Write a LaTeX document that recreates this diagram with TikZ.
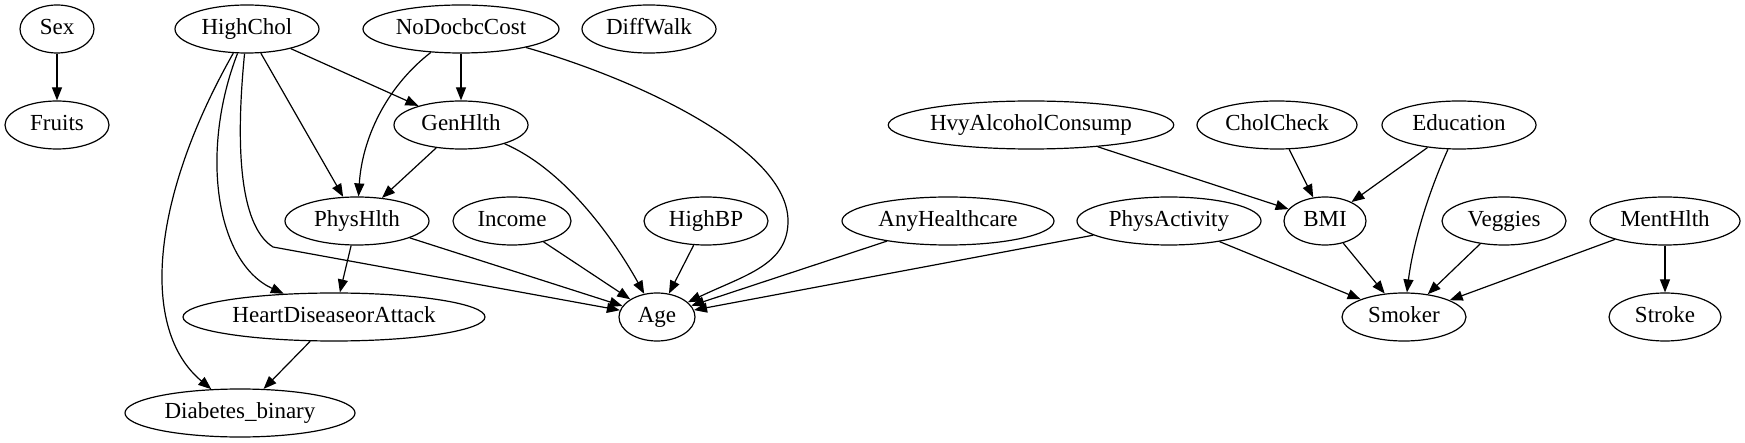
\documentclass[tikz,border=0pt]{standalone}
\usepackage{fontspec}
\setmainfont{Liberation Serif}
\usetikzlibrary{shapes.geometric,arrows.meta}
\tikzset{
  nd/.style={draw, ellipse, line width=1.2pt, inner sep=0pt, minimum height=48pt,
    font=\fontsize{23}{27}\selectfont, text height=15.5pt, text depth=4pt},
  edge/.style={line width=1.2pt, -{Triangle[length=13pt,width=10pt]}}
}
\begin{document}
\begin{tikzpicture}[x=1pt,y=-1pt]
\useasboundingbox (0,0) rectangle (1745,443);
% row 1
\node[nd, minimum width=74pt]  (Sex)         at (57,29)   {Sex};
\node[nd, minimum width=144pt] (HighChol)    at (247,29)  {HighChol};
\node[nd, minimum width=196pt] (NoDocbcCost) at (461,29)  {NoDocbcCost};
\node[nd, minimum width=134pt] (DiffWalk)    at (649,29)  {DiffWalk};
% row 2
\node[nd, minimum width=104pt] (Fruits)      at (57,125)  {Fruits};
\node[nd, minimum width=134pt] (GenHlth)     at (461,125) {GenHlth};
\node[nd, minimum width=284pt] (HvyAlc)      at (1031,125) {HvyAlcoholConsump};
\node[nd, minimum width=160pt] (CholCheck)   at (1277,125) {CholCheck};
\node[nd, minimum width=154pt] (Education)   at (1459,125) {Education};
% row 3
\node[nd, minimum width=144pt] (PhysHlth)    at (357,221) {PhysHlth};
\node[nd, minimum width=118pt] (Income)      at (512,221) {Income};
\node[nd, minimum width=124pt] (HighBP)      at (706,221) {HighBP};
\node[nd, minimum width=212pt] (AnyHC)       at (948,221) {AnyHealthcare};
\node[nd, minimum width=184pt] (PhysAct)     at (1169,221) {PhysActivity};
\node[nd, minimum width=82pt]  (BMI)         at (1325,221) {BMI};
\node[nd, minimum width=124pt] (Veggies)     at (1504,221) {Veggies};
\node[nd, minimum width=150pt] (MentHlth)    at (1665,221) {MentHlth};
% row 4
\node[nd, minimum width=302pt] (Heart)       at (334,317) {HeartDiseaseorAttack};
\node[nd, minimum width=76pt]  (Age)         at (657,317) {Age};
\node[nd, minimum width=124pt] (Smoker)      at (1404,317) {Smoker};
\node[nd, minimum width=112pt] (Stroke)      at (1665,317) {Stroke};
% row 5
\node[nd, minimum width=230pt] (Diabetes)    at (240,413) {Diabetes\_binary};

% edges
\draw[edge] (Sex) -- (Fruits);
\draw[edge] (HighChol) -- (GenHlth);
\draw[edge] (HighChol) -- (PhysHlth);
\draw[edge] (HighChol) .. controls (200,150) and (215,262) .. (Heart);
\draw[edge] (HighChol) .. controls (150,200) and (140,330) .. (Diabetes);
\draw[edge] (HighChol) .. controls (236,140) and (238,225) .. (273,247) -- (Age);
\draw[edge] (NoDocbcCost) -- (GenHlth);
\draw[edge] (NoDocbcCost) .. controls (385,88) and (362,140) .. (PhysHlth);
\draw[edge] (NoDocbcCost) .. controls (640,80) and (788,150) .. (788,221)
   .. controls (788,265) and (745,275) .. (Age);
\draw[edge] (GenHlth) -- (PhysHlth);
\draw[edge] (GenHlth) .. controls (570,172) and (620,250) .. (Age);
\draw[edge] (PhysHlth) -- (Heart);
\draw[edge] (PhysHlth) -- (Age);
\draw[edge] (Income) -- (Age);
\draw[edge] (HighBP) -- (Age);
\draw[edge] (AnyHC) -- (Age);
\draw[edge] (PhysAct) -- (Age);
\draw[edge] (PhysAct) -- (Smoker);
\draw[edge] (HvyAlc) -- (BMI);
\draw[edge] (CholCheck) -- (BMI);
\draw[edge] (Education) -- (BMI);
\draw[edge] (Education) .. controls (1425,200) and (1412,250) .. (Smoker);
\draw[edge] (BMI) -- (Smoker);
\draw[edge] (Veggies) -- (Smoker);
\draw[edge] (MentHlth) -- (Smoker);
\draw[edge] (MentHlth) -- (Stroke);
\draw[edge] (Heart) -- (Diabetes);
\end{tikzpicture}
\end{document}
